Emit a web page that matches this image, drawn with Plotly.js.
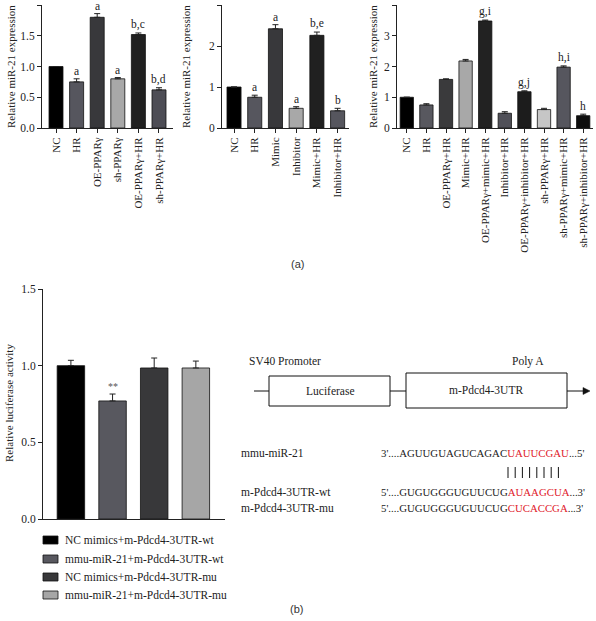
<!DOCTYPE html>
<html><head><meta charset="utf-8">
<script src="https://cdn.plot.ly/plotly-3.0.1.min.js"></script>
<style>html,body{margin:0;padding:0;background:#fff}#chart{width:596px;height:621px}</style>
</head><body><div id="chart"></div>
<script>
// ---------- DATA ----------
const catsA = ['NC','HR','OE-PPARγ','sh-PPARγ','OE-PPARγ+HR','sh-PPARγ+HR'];
const valsA = [1.0, 0.75, 1.80, 0.80, 1.52, 0.62];
const errsA = [0.0, 0.05, 0.06, 0.02, 0.025, 0.035];
const lettersA = ['', 'a', 'a', 'a', 'b,c', 'b,d'];

const catsB = ['NC','HR','Mimic','Inhibitor','Mimic+HR','Inhibitor+HR'];
const valsB = [1.0, 0.75, 2.42, 0.48, 2.26, 0.42];
const errsB = [0.0, 0.05, 0.10, 0.04, 0.08, 0.06];
const lettersB = ['', 'a', 'a', 'a', 'b,e', 'b'];

const catsC = ['NC','HR','OE-PPARγ+HR','Mimic+HR','OE-PPARγ+mimic+HR','Inhibitor+HR','OE-PPARγ+inhibitor+HR','sh-PPARγ+HR','sh-PPARγ+mimic+HR','sh-PPARγ+inhibitor+HR'];
const valsC = [1.0, 0.75, 1.58, 2.18, 3.48, 0.48, 1.18, 0.60, 1.98, 0.40];
const errsC = [0.0, 0.04, 0.02, 0.05, 0.03, 0.05, 0.03, 0.04, 0.04, 0.05];
const lettersC = ['', '', '', '', 'g,i', '', 'g,j', '', 'h,i', 'h'];

const catsD = ['NC mimics+m-Pdcd4-3UTR-wt','mmu-miR-21+m-Pdcd4-3UTR-wt','NC mimics+m-Pdcd4-3UTR-mu','mmu-miR-21+m-Pdcd4-3UTR-mu'];
const valsD = [1.0, 0.77, 0.985, 0.985];
const errsD = [0.035, 0.045, 0.065, 0.045];
const marksD = ['', '**', '', ''];

const yTicksA = [0, 0.5, 1.0, 1.5, 2.0];
const yTicksB = [0, 1, 2, 3];
const yTicksC = [0, 1, 2, 3, 4];
const yTicksD = [0, 0.5, 1.0, 1.5];

const seqNames = ['mmu-miR-21', 'm-Pdcd4-3UTR-wt', 'm-Pdcd4-3UTR-mu'];
const seqLeft  = ["3'....AGUUGUAGUCAGAC", "5'....GUGUGGGUGUUCUG", "5'....GUGUGGGUGUUCUG"];
const seqRed   = ['UAUUCGAU', 'AUAAGCUA', 'CUCACCGA'];
const seqRight = ["...5'", "...3'", "...3'"];

// ---------- STYLES ----------
const colorsA = ['#000000','#56565e','#38383b','#a8a8a8','#202020','#4d4d55'];
const colorsB = ['#000000','#56565e','#38383b','#a8a8a8','#202020','#56565e'];
const colorsC = ['#000000','#58585f','#3a3a3c','#a8a8a8','#222222','#505058','#1c1c1c','#c6c6c6','#56565e','#0e0e0e'];
const colorsD = ['#000000','#58585f','#38383a','#a6a6a6'];

const F = '"Liberation Serif", "DejaVu Serif", serif';
const W = 596, H = 621;
const px = x => x / W;
const py = y => 1 - y / H;
const TXT = '#222';

function xa(d0, d1, range, anchor, showLabels) {
  return {domain:[px(d0), px(d1)], range, anchor, type:'category',
    showline:true, linecolor:TXT, linewidth:1,
    ticks: showLabels ? 'outside' : '', ticklen:4, tickcolor:TXT, tickwidth:1,
    showticklabels: showLabels, tickangle:-90,
    tickfont:{family:F, size:11, color:TXT},
    showgrid:false, zeroline:false, fixedrange:true, automargin:false};
}
function ya(top, bot, range, tickvals, fmt, anchor) {
  return {domain:[py(bot), py(top)], range, anchor, tickvals, tickformat:fmt,
    showline:true, linecolor:TXT, linewidth:1,
    ticks:'outside', ticklen:4, tickcolor:TXT, tickwidth:1,
    tickfont:{family:F, size:11.5, color:TXT},
    showgrid:false, zeroline:false, fixedrange:true, automargin:false};
}
function barTrace(cats, vals, errs, colors, xr, yr, w) {
  return {type:'bar', x:cats, y:vals, xaxis:xr, yaxis:yr, width:w,
    marker:{color:colors, line:{color:'#111', width:0.8}},
    error_y:{type:'data', symmetric:false, array:errs, arrayminus:errs.map(()=>0),
      color:'#222', thickness:1, width:3},
    showlegend:false, hoverinfo:'skip'};
}

const data = [
  barTrace(catsA, valsA, errsA, colorsA, 'x', 'y', 0.68),
  barTrace(catsB, valsB, errsB, colorsB, 'x2', 'y2', 0.68),
  barTrace(catsC, valsC, errsC, colorsC, 'x3', 'y3', 0.68),
  barTrace(catsD, valsD, errsD, colorsD, 'x4', 'y4', 0.66)
];

const annotations = [];
function letters(cats, vals, errs, labs, xr, yr, size, color) {
  labs.forEach((t, i) => {
    if (!t) return;
    annotations.push({xref:xr, yref:yr, x:cats[i], y:vals[i] + errs[i], text:t,
      showarrow:false, yanchor:'bottom', yshift:0,
      font:{family:F, size:size, color:color || TXT}});
  });
}
letters(catsA, valsA, errsA, lettersA, 'x', 'y', 11.5);
letters(catsB, valsB, errsB, lettersB, 'x2', 'y2', 11.5);
letters(catsC, valsC, errsC, lettersC, 'x3', 'y3', 11.5);
letters(catsD, valsD, errsD, marksD, 'x4', 'y4', 10, '#555555');

function vtitle(text, x, y) {
  annotations.push({xref:'paper', yref:'paper', x:px(x), y:py(y), text, textangle:-90,
    showarrow:false, xanchor:'center', yanchor:'middle', font:{family:F, size:11, color:TXT}});
}
vtitle('Relative miR-21 expression', 11, 67);
vtitle('Relative miR-21 expression', 186, 67);
vtitle('Relative miR-21 expression', 373, 67);
vtitle('Relative luciferase activity', 9, 403);

function txt(text, x, y, anchor, size, fam, color) {
  annotations.push({xref:'paper', yref:'paper', x:px(x), y:py(y), text, showarrow:false,
    xanchor:anchor || 'left', yanchor:'middle', borderpad:0,
    font:{family:fam || F, size:size || 11, color:color || TXT}});
}
txt('(a)', 297, 264, 'center', 11, '"Liberation Sans", Arial, sans-serif', '#333');
txt('(b)', 296, 609, 'center', 11, '"Liberation Sans", Arial, sans-serif', '#333');

// legend (bottom-left)
const shapes = [];
const legY = [540, 559, 577, 595];
catsD.forEach((c, i) => {
  shapes.push({type:'rect', xref:'paper', yref:'paper', x0:px(43), x1:px(58),
    y0:py(legY[i] + 4), y1:py(legY[i] - 4), fillcolor:colorsD[i], line:{color:'#111', width:0.8}});
  txt(c, 64, legY[i], 'left', 11.5);
});

// construct diagram
txt('SV40 Promoter', 248, 361, 'left', 11.5);
txt('Poly A', 528, 361, 'center', 11.5);
function line(x0, y0, x1, y1, w) {
  shapes.push({type:'line', xref:'paper', yref:'paper', x0:px(x0), y0:py(y0), x1:px(x1), y1:py(y1),
    line:{color:'#111', width:w || 1}});
}
function rect(x0, y0, x1, y1) {
  shapes.push({type:'rect', xref:'paper', yref:'paper', x0:px(x0), y0:py(y1), x1:px(x1), y1:py(y0),
    line:{color:'#111', width:1}, fillcolor:'rgba(0,0,0,0)'});
}
line(254, 391, 269, 391);
rect(269, 376, 390, 406);
line(390, 391, 406, 391);
rect(406, 373, 567, 408);
line(567, 391, 584, 391);
shapes.push({type:'path', xref:'paper', yref:'paper',
  path:`M ${px(583)},${py(387.5)} L ${px(590)},${py(391)} L ${px(583)},${py(394.5)} Z`,
  fillcolor:'#111', line:{color:'#111', width:0.5}});
txt('Luciferase', 330, 391, 'center', 11.5);
txt('m-Pdcd4-3UTR', 486, 390, 'center', 11.5);

// sequences
const seqY = [453, 492, 508];
seqNames.forEach((n, i) => {
  txt(n, 240, seqY[i], 'left', 11.5);
  txt(seqLeft[i] + '<span style="color:#e0202a">' + seqRed[i] + '</span>' + seqRight[i],
      380, seqY[i], 'left', 10.8);
});
// base-pairing ticks
seqRed[0].split('').forEach((ch, i) => {
  line(508 + i * 7.2, 467, 508 + i * 7.2, 478, 1);
});

const layout = {
  width:W, height:H, margin:{l:0, r:0, t:0, b:0},
  paper_bgcolor:'#fff', plot_bgcolor:'rgba(0,0,0,0)',
  font:{family:F, size:11, color:TXT},
  showlegend:false, bargap:0.3,
  xaxis: xa(42, 173, [-0.68, 5.68], 'y', true),
  yaxis: ya(5, 128, [0, 2], yTicksA, '.1f', 'x'),
  xaxis2: xa(222, 349, [-0.58, 5.55], 'y2', true),
  yaxis2: ya(5, 128, [0, 3], yTicksB, 'd', 'x2'),
  xaxis3: xa(397, 593, [-0.5, 9.5], 'y3', true),
  yaxis3: ya(5, 128, [0, 4], yTicksC, 'd', 'x3'),
  xaxis4: xa(43, 225, [-0.67, 3.7], 'y4', false),
  yaxis4: ya(289, 519, [0, 1.5], yTicksD, '.1f', 'x4'),
  annotations, shapes
};
Plotly.newPlot('chart', data, layout, {staticPlot:true, displayModeBar:false});
</script></body></html>
